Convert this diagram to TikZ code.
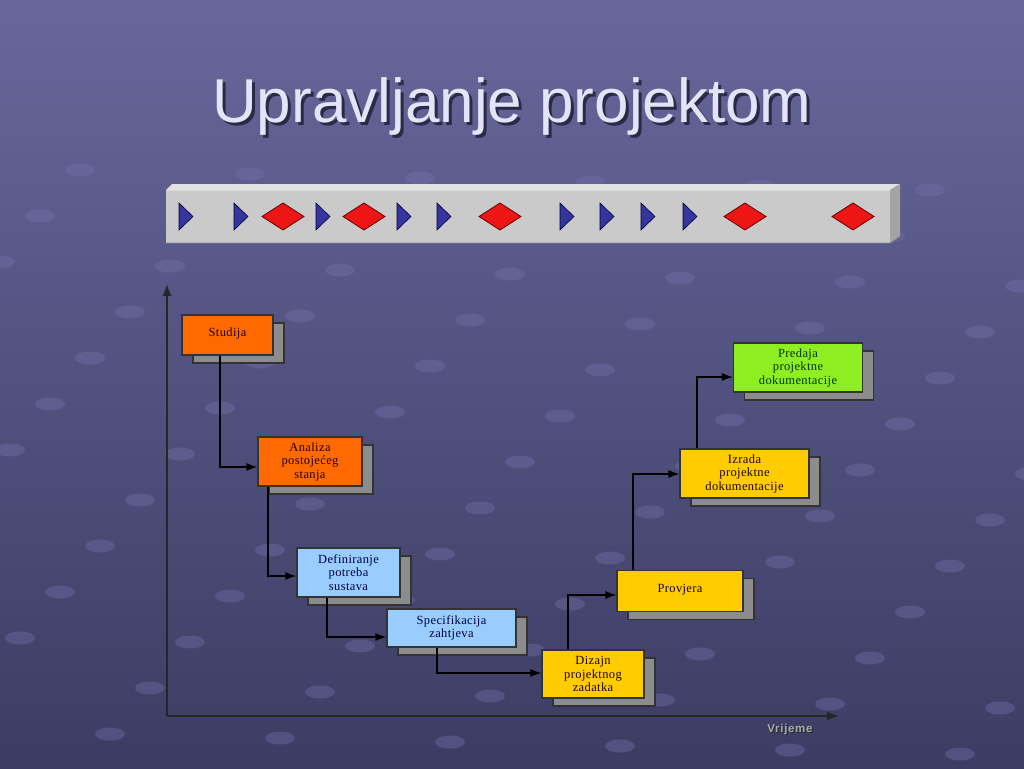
\documentclass[tikz,border=0pt]{standalone}
\usepackage{fontspec}
\setmainfont{Liberation Serif}
\setsansfont{Liberation Sans}
\newfontfamily\boxfont[LetterSpace=3]{Liberation Serif}
\newfontfamily\axisfont[LetterSpace=6]{Liberation Sans}
\usetikzlibrary{arrows.meta,shadows}
\definecolor{bgtop}{HTML}{67679C}
\definecolor{bgbot}{HTML}{3C3C63}
\definecolor{dotc}{HTML}{7272AA}
\definecolor{titlec}{HTML}{E4E4F8}
\definecolor{titlesh}{HTML}{2A2A48}
\definecolor{barface}{HTML}{CACACA}
\definecolor{bartop}{HTML}{E2E2E2}
\definecolor{barside}{HTML}{A4A4A4}
\definecolor{triblue}{HTML}{3535A0}
\definecolor{diared}{HTML}{EE1515}
\definecolor{orangebox}{HTML}{FF6A00}
\definecolor{bluebox}{HTML}{99CCFF}
\definecolor{yellowbox}{HTML}{FFCC00}
\definecolor{greenbox}{HTML}{8EEE22}
\definecolor{shgray}{HTML}{8C8C8C}
\begin{document}
\begin{tikzpicture}[x=1pt,y=-1pt,
  box/.style={draw=black!80, line width=1.1pt, inner sep=0pt, align=center,
    font=\boxfont\fontsize{12.5}{13.5}\selectfont,
    drop shadow={shadow xshift=11pt, shadow yshift=-8pt, fill=shgray, draw=black!80, line width=1.1pt, opacity=1}},
  orangeb/.style={box, fill=orangebox, text=black!75!red!50!black},
  blueb/.style={box, fill=bluebox, text=blue!25!black},
  yellowb/.style={box, fill=yellowbox, text=black!80!red!50!black},
  greenb/.style={box, fill=greenbox, text=green!20!black},
  conn/.style={draw=black, line width=1.4pt, -{Latex[length=11pt,width=8pt]}},
  axis/.style={draw=black!85, line width=1.5pt, -{Latex[length=12pt,width=9pt]}},
  tri/.style={fill=triblue, draw=blue!20!black, line width=0.6pt},
  dia/.style={fill=diared, draw=red!40!black, line width=0.8pt},
  dot/.style={fill=dotc, opacity=0.4}
]
\useasboundingbox (0,0) rectangle (1024,768);
% background
\shade[top color=bgtop, bottom color=bgbot] (0,0) rectangle (1024,768);
\begin{scope}
  \clip (0,150) rectangle (1024,768);
  \foreach \i in {-12,...,18}{
    \foreach \j in {-10,...,6}{
      \fill[dot] ({990-40*\i+130*\j},{520+46*\i+50*\j}) ellipse [x radius=15, y radius=6.5];
    }
  }
\end{scope}
% title
\node[font=\fontsize{62}{62}\sffamily, text=titlec, anchor=base] (title) at (512,122)
  {\makebox[0pt][l]{\hspace{3pt}\raisebox{-3pt}{\textcolor{titlesh}{Upravljanje projektom}}}Upravljanje projektom};
% milestone bar
\fill[bartop] (166,190) -- (172,184) -- (900,184) -- (890,190) -- cycle;
\fill[barside] (890,190) -- (900,184) -- (900,236) -- (890,243) -- cycle;
\fill[barface] (166,190) rectangle (890,243);
\draw[black!45, line width=0.8pt] (166,243) -- (890,243) -- (900,236);
\draw[white!85!black, line width=0.6pt] (166,190) -- (890,190);
\foreach \x in {179,234,316,397,437,560,600,641,683}{
  \draw[tri] (\x,203) -- (\x+14,216.5) -- (\x,230) -- cycle;
}
\foreach \x in {283,364,500,745,853}{
  \draw[dia] (\x-21,216.5) -- (\x,203) -- (\x+21,216.5) -- (\x,230) -- cycle;
}
% axes
\coordinate (origin) at (167,716);
\coordinate (ytop) at (167,284);
\coordinate (xend) at (839,716);
\draw[axis] (origin) -- (ytop);
\draw[axis] (origin) -- (xend);
\node[font=\axisfont\fontsize{11.5}{12}\bfseries, text=gray!65] (vr) at (790,730)
  {\makebox[0pt][l]{\hspace{1pt}\raisebox{-1pt}{\textcolor{black!85}{Vrijeme}}}Vrijeme};
% boxes
\node[orangeb, minimum width=91pt, minimum height=40pt] (studija) at (227.5,335) {\raisebox{5pt}{Studija}};
\node[orangeb, minimum width=104pt, minimum height=49pt] (analiza) at (310,461.5) {Analiza\\postojećeg\\stanja};
\node[blueb, minimum width=103pt, minimum height=49pt] (definiranje) at (348.5,572.5) {Definiranje\\potreba\\sustava};
\node[blueb, minimum width=129pt, minimum height=38pt] (specifikacija) at (451.5,628) {Specifikacija\\zahtjeva};
\node[yellowb, minimum width=102pt, minimum height=48pt] (dizajn) at (593,674) {Dizajn\\projektnog\\zadatka};
\node[yellowb, minimum width=126pt, minimum height=41pt] (provjera) at (680,591) {\raisebox{6pt}{Provjera}};
\node[yellowb, minimum width=129pt, minimum height=49pt] (izrada) at (744.5,473.5) {Izrada\\projektne\\dokumentacije};
\node[greenb, minimum width=129pt, minimum height=49pt] (predaja) at (798,367.5) {Predaja\\projektne\\dokumentacije};
% connectors
\draw[conn] ([xshift=-7.5pt]studija.south) |- ([yshift=-5.5pt]analiza.west);
\draw[conn] ([xshift=-42pt]analiza.south) |- ([yshift=-3.5pt]definiranje.west);
\draw[conn] ([xshift=-21.5pt]definiranje.south) |- ([yshift=-9pt]specifikacija.west);
\draw[conn] ([xshift=-14.5pt]specifikacija.south) |- ([yshift=1pt]dizajn.west);
\draw[conn] ([xshift=-25pt]dizajn.north) |- ([yshift=-4pt]provjera.west);
\draw[conn] ([xshift=-47pt]provjera.north) |- ([yshift=-0.5pt]izrada.west);
\draw[conn] ([xshift=-47.5pt]izrada.north) |- ([yshift=-9.5pt]predaja.west);
\end{tikzpicture}
\end{document}
